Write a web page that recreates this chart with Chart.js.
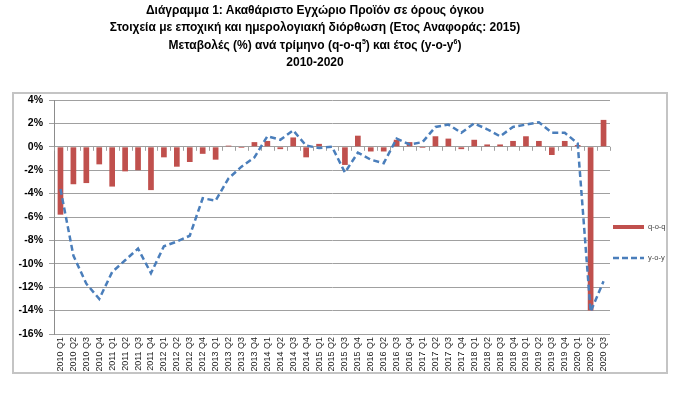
<!DOCTYPE html>
<html>
<head>
<meta charset="utf-8">
<script src="https://cdn.jsdelivr.net/npm/chart.js@4"></script>
<style>
  html, body { margin: 0; padding: 0; background: #fff; }
  #wrap { position: relative; width: 680px; height: 394px; overflow: hidden; }
  #title {
    position: absolute; left: 0; top: 2px; width: 630px;
    text-align: center; font: bold 12px "Liberation Sans", Arial, sans-serif;
    line-height: 17.3px; color: #000;
  }
  #title sup { font-size: 7px; line-height: 0; }
  #frame {
    position: absolute; left: 12px; top: 92px; width: 656px; height: 282px;
    box-sizing: border-box; border: 2px solid #c4c4c4; pointer-events: none;
  }
  canvas { position: absolute; left: 0; top: 0; }
</style>
</head>
<body>
<div id="wrap">
  <canvas id="chart" width="680" height="394"></canvas>
  <div id="frame"></div>
  <div id="title">
    Διάγραμμα 1: Ακαθάριστο Εγχώριο Προϊόν σε όρους όγκου<br>
    Στοιχεία με εποχική και ημερολογιακή διόρθωση (Ετος Αναφοράς: 2015)<br>
    Μεταβολές (%) ανά τρίμηνο (q-o-q<sup>5</sup>) και έτος (y-o-y<sup>6</sup>)<br>
    2010-2020
  </div>
</div>
<script>
// quarters 2010 Q1 .. 2020 Q3
const quarters = [
  '2010 Q1', '2010 Q2', '2010 Q3', '2010 Q4',
  '2011 Q1', '2011 Q2', '2011 Q3', '2011 Q4',
  '2012 Q1', '2012 Q2', '2012 Q3', '2012 Q4',
  '2013 Q1', '2013 Q2', '2013 Q3', '2013 Q4',
  '2014 Q1', '2014 Q2', '2014 Q3', '2014 Q4',
  '2015 Q1', '2015 Q2', '2015 Q3', '2015 Q4',
  '2016 Q1', '2016 Q2', '2016 Q3', '2016 Q4',
  '2017 Q1', '2017 Q2', '2017 Q3', '2017 Q4',
  '2018 Q1', '2018 Q2', '2018 Q3', '2018 Q4',
  '2019 Q1', '2019 Q2', '2019 Q3', '2019 Q4',
  '2020 Q1', '2020 Q2', '2020 Q3',
];

// quarter-on-quarter change (%)
const qoq = [
  -5.8, -3.2, -3.1, -1.5,
  -3.4, -2.1, -2.0, -3.7,
  -0.9, -1.7, -1.3, -0.6,
  -1.1, 0.1, -0.1, 0.4,
  0.5, -0.2, 0.8, -0.9,
  0.25, 0.0, -1.55, 0.95,
  -0.4, -0.4, 0.6, 0.4,
  -0.1, 0.9, 0.7, -0.2,
  0.6, 0.2, 0.2, 0.5,
  0.9, 0.5, -0.7, 0.5,
  0.15, -14.0, 2.3,
];

// year-on-year change (%)
const yoy = [
  -3.6, -9.3, -11.7, -13.0,
  -10.7, -9.7, -8.7, -10.8,
  -8.5, -8.1, -7.6, -4.4,
  -4.6, -2.7, -1.7, -0.9,
  0.9, 0.6, 1.4, 0.1,
  -0.1, 0.0, -2.2, -0.5,
  -1.1, -1.4, 0.7, 0.2,
  0.4, 1.7, 1.9, 1.2,
  2.0, 1.5, 0.9, 1.7,
  1.9, 2.1, 1.2, 1.2,
  0.3, -14.1, -11.5,
];

const yTicks = { min: -16, max: 4, step: 2 };

const RED = '#c0504d';
const BLUE = '#4a7ebb';
const GRID = '#a0a0a0';
const FONT = '"Liberation Sans", Arial, sans-serif';

// little tick marks hanging under the 0% line at each category boundary
const zeroTicks = {
  id: 'zeroTicks',
  beforeDatasetsDraw(chart) {
    const { ctx, scales: { x, y } } = chart;
    const y0 = y.getPixelForValue(0);
    const step = (x.right - x.left) / quarters.length;
    ctx.save();
    ctx.strokeStyle = GRID;
    ctx.lineWidth = 1;
    ctx.beginPath();
    for (let i = 0; i <= quarters.length; i++) {
      const px = Math.round(x.left + i * step) + 0.5;
      ctx.moveTo(px, y0);
      ctx.lineTo(px, y0 + 4);
    }
    ctx.stroke();
    ctx.restore();
  },
};

// Excel-style legend to the right of the plot
const sideLegend = {
  id: 'sideLegend',
  afterDraw(chart) {
    const { ctx, chartArea } = chart;
    const x0 = chartArea.right + 3;
    const mid = (chartArea.top + chartArea.bottom) / 2;
    ctx.save();
    ctx.font = '7.5px ' + FONT;
    ctx.fillStyle = '#404040';
    ctx.textBaseline = 'middle';

    ctx.fillStyle = RED;
    ctx.fillRect(x0, mid + 8, 31, 4);
    ctx.fillStyle = '#404040';
    ctx.fillText('q-o-q', x0 + 35, mid + 10);

    ctx.strokeStyle = BLUE;
    ctx.lineWidth = 2.5;
    ctx.setLineDash([6, 3]);
    ctx.beginPath();
    ctx.moveTo(x0, mid + 41);
    ctx.lineTo(x0 + 31, mid + 41);
    ctx.stroke();
    ctx.setLineDash([]);
    ctx.fillText('y-o-y', x0 + 35, mid + 41);
    ctx.restore();
  },
};

new Chart(document.getElementById('chart'), {
  type: 'bar',
  plugins: [zeroTicks, sideLegend],
  data: {
    labels: quarters,
    datasets: [
      {
        type: 'line',
        label: 'y-o-y',
        data: yoy,
        borderColor: BLUE,
        borderWidth: 2.5,
        borderDash: [6, 3.5],
        pointRadius: 0,
        tension: 0,
        fill: false,
        order: 0,
      },
      {
        type: 'bar',
        label: 'q-o-q',
        data: qoq,
        backgroundColor: RED,
        categoryPercentage: 1,
        barPercentage: 0.44,
        order: 1,
      },
    ],
  },
  options: {
    responsive: false,
    animation: false,
    layout: { padding: { left: 12, right: 70, top: 100, bottom: 0 } },
    scales: {
      x: {
        grid: { display: false, drawTicks: false },
        border: { display: false },
        ticks: {
          autoSkip: false,
          minRotation: 90,
          maxRotation: 90,
          padding: 3,
          color: '#222',
          font: { family: FONT, size: 9 },
        },
        afterFit: (scale) => { scale.height = 60; },
      },
      y: {
        min: yTicks.min,
        max: yTicks.max,
        grid: { color: GRID, lineWidth: 1, tickLength: 5 },
        border: { display: true, color: '#8c8c8c', width: 1 },
        ticks: {
          stepSize: yTicks.step,
          padding: 6,
          color: '#000',
          font: { family: FONT, size: 10.5, weight: 'bold' },
          callback: (v) => v + '%',
        },
        afterFit: (scale) => { scale.width = 42; },
      },
    },
    plugins: {
      legend: { display: false },
      tooltip: { enabled: false },
    },
  },
});
</script>
</body>
</html>
